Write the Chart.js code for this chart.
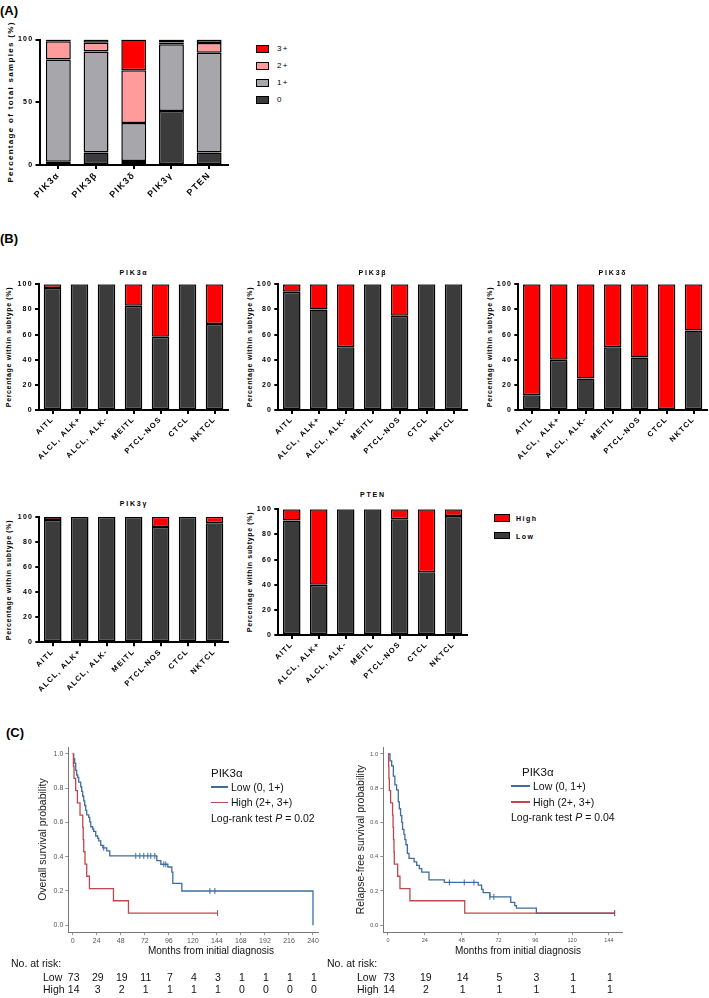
<!DOCTYPE html>
<html><head><meta charset="utf-8">
<script src="https://cdn.jsdelivr.net/npm/chart.js@4.4.1/dist/chart.umd.min.js"></script>
<style>
body{margin:0;width:709px;height:998px;position:relative;background:#fff;overflow:hidden;font-family:'Liberation Sans',Arial,sans-serif;color:#000;}
canvas{position:absolute;}
.t{position:absolute;white-space:nowrap;line-height:1;color:#000;}
.pl{font-weight:bold;font-size:13px;}
.bt{font-weight:bold;font-size:7px;letter-spacing:1.8px;transform:translate(-50%,-50%);}
.yt{font-weight:bold;font-size:7px;letter-spacing:0.65px;transform:translate(-50%,-50%) rotate(-90deg);}
.lg{font-size:8px;letter-spacing:1.2px;transform:translateY(-50%);}
.lgb{font-weight:bold;font-size:7px;letter-spacing:1.5px;transform:translateY(-50%);}
.box{position:absolute;border:1px solid #000;box-sizing:border-box;}
.km{font-size:10.5px;color:#111;transform:translateY(-50%);}
.kmh{font-size:11.5px;color:#111;transform:translateY(-50%);}
.ln{position:absolute;height:1.5px;}
</style></head>
<body>
<div class="t pl" style="left:0px;top:4px;">(A)</div>
<div class="t pl" style="left:0px;top:232px;">(B)</div>
<div class="t pl" style="left:6px;top:726px;">(C)</div>

<canvas id="cA"></canvas>
<canvas id="cB1"></canvas><canvas id="cB2"></canvas><canvas id="cB3"></canvas>
<canvas id="cB4"></canvas><canvas id="cB5"></canvas>
<canvas id="cC1"></canvas><canvas id="cC2"></canvas>

<!-- axis titles of bar charts -->
<div class="t yt" style="left:10.7px;top:102px;font-size:8px;letter-spacing:1.3px;">Percentage of total samples (%)</div>
<div class="t yt" style="left:8px;top:347px;">Percentage within subtype (%)</div>
<div class="t yt" style="left:248.7px;top:347px;">Percentage within subtype (%)</div>
<div class="t yt" style="left:488.7px;top:347px;">Percentage within subtype (%)</div>
<div class="t yt" style="left:8px;top:579.5px;">Percentage within subtype (%)</div>
<div class="t yt" style="left:248.7px;top:572px;">Percentage within subtype (%)</div>

<!-- panel A legend -->
<div class="box" style="left:256px;top:45px;width:13px;height:7.5px;background:#ff0000"></div>
<div class="box" style="left:256px;top:62px;width:13px;height:7.5px;background:#ff9b9b"></div>
<div class="box" style="left:256px;top:79px;width:13px;height:7.5px;background:#a6a6ab"></div>
<div class="box" style="left:256px;top:96px;width:13px;height:7.5px;background:#3b3b3b"></div>
<div class="t lg" style="left:277px;top:49px;">3+</div>
<div class="t lg" style="left:277px;top:66px;">2+</div>
<div class="t lg" style="left:277px;top:83px;">1+</div>
<div class="t lg" style="left:277px;top:100px;">0</div>

<!-- panel B titles -->
<div class="t bt" style="left:134px;top:272px;">PIK3α</div>
<div class="t bt" style="left:373px;top:272px;">PIK3β</div>
<div class="t bt" style="left:613px;top:272px;">PIK3δ</div>
<div class="t bt" style="left:134px;top:503px;">PIK3γ</div>
<div class="t bt" style="left:373px;top:494px;">PTEN</div>
<!-- panel B legend -->
<div class="box" style="left:494px;top:514px;width:16px;height:7.5px;background:#ff0000"></div>
<div class="box" style="left:494px;top:531.5px;width:16px;height:7.5px;background:#3b3b3b"></div>
<div class="t lgb" style="left:516px;top:518px;">High</div>
<div class="t lgb" style="left:516px;top:535.5px;">Low</div>

<!-- panel C legends -->
<div class="t kmh" style="left:211px;top:774px;">PIK3α</div>
<div class="ln" style="left:211px;top:786px;width:17px;background:#3d6d9e"></div>
<div class="t km" style="left:231px;top:787px;">Low (0, 1+)</div>
<div class="ln" style="left:211px;top:801.5px;width:17px;background:#c0464f"></div>
<div class="t km" style="left:231px;top:802px;">High (2+, 3+)</div>
<div class="t km" style="left:211px;top:818px;">Log-rank test <i>P</i> = 0.02</div>

<div class="t kmh" style="left:522px;top:773px;">PIK3α</div>
<div class="ln" style="left:511px;top:785px;width:19px;background:#3d6d9e"></div>
<div class="t km" style="left:533px;top:786px;">Low (0, 1+)</div>
<div class="ln" style="left:511px;top:801px;width:19px;background:#c0464f"></div>
<div class="t km" style="left:533px;top:802px;">High (2+, 3+)</div>
<div class="t km" style="left:511px;top:817px;">Log-rank test <i>P</i> = 0.04</div>

<script>
// ---------- Panel A data ----------
const catA = ['PIK3α','PIK3β','PIK3δ','PIK3γ','PTEN'];
const score0 = [2.5, 10, 3.2, 43, 10];
const score1 = [81.5, 80.5, 30.3, 53.3, 79.5];
const score2 = [14.7, 7, 42, 1.3, 7.8];
const score3 = [1.3, 2.5, 24.5, 2.4, 2.7];
const ticksA = [0, 50, 100];

// ---------- Panel B data ----------
const subtypes = ['AITL','ALCL, ALK+','ALCL, ALK-','MEITL','PTCL-NOS','CTCL','NKTCL'];
const ticksB = [0, 20, 40, 60, 80, 100];
const lowPIK3a = [97, 100, 100, 83, 58.3, 100, 68.4];
const highPIK3a = [3, 0, 0, 17, 41.7, 0, 31.6];
const lowPIK3b = [94.1, 80, 50, 100, 75, 100, 100];
const highPIK3b = [5.9, 20, 50, 0, 25, 0, 0];
const lowPIK3d = [11.8, 40, 25, 50, 41.7, 0, 63.2];
const highPIK3d = [88.2, 60, 75, 50, 58.3, 100, 36.8];
const lowPIK3g = [97.3, 100, 100, 100, 91.7, 100, 94.7];
const highPIK3g = [2.7, 0, 0, 0, 8.3, 0, 5.3];
const lowPTEN = [91, 40, 100, 100, 92, 50, 94.7];
const highPTEN = [9, 60, 0, 0, 8, 50, 5.3];

// ---------- Panel C data (Kaplan-Meier) ----------
const osTicks = [0,24,48,72,96,120,144,168,192,216,240];
const rfsTicks = [0,24,48,72,96,120,144];
const survTicks = [0,0.2,0.4,0.6,0.8,1.0];
const osLowT = [0,1,2,3,4,5,6,8,9,10,11,12,13,14,16,17,18,20,21,23,25,26,28,30,34,37,84,88,95,99,100,109,240];
const osLowS = [1,0.973,0.945,0.904,0.877,0.863,0.836,0.808,0.781,0.753,0.726,0.699,0.671,0.644,0.63,0.603,0.575,0.562,0.548,0.521,0.507,0.493,0.466,0.452,0.434,0.405,0.377,0.356,0.34,0.31,0.245,0.2,0];
const osLowCensT = [31,63,67,71,75,78,82,91,93,137,142];
const osLowCensS = [0.452,0.405,0.405,0.405,0.405,0.405,0.405,0.356,0.356,0.2,0.2];
const osHighT = [0,0.7,1.3,3,4.7,7.3,10,10.5,11,12.3,14,16.7,40.7,55.7,144.7];
const osHighS = [1,0.929,0.857,0.786,0.714,0.643,0.571,0.5,0.429,0.357,0.286,0.214,0.143,0.071,0.071];
const osHighCensT = [144.7];
const osHighCensS = [0.071];
const rfsLowT = [0,1.3,2.4,3.5,4.5,5.6,6.7,7.4,8.2,9,9.5,10.4,11,11.7,12.6,13.7,17,18.7,20.4,22,26.7,36.7,58.8,61,62,66.4,80,82.6,83.7,96.7,147.7];
const rfsLowS = [1,0.96,0.93,0.87,0.82,0.79,0.72,0.68,0.64,0.6,0.56,0.53,0.5,0.47,0.42,0.39,0.37,0.35,0.33,0.31,0.265,0.25,0.234,0.21,0.19,0.166,0.133,0.114,0.1,0.07,0.07];
const rfsLowCensT = [40,49.7,56,66.4,69,147.7];
const rfsLowCensS = [0.25,0.25,0.25,0.166,0.166,0.07];
const rfsHighT = [0,0.4,0.6,0.9,1.7,3.0,3.3,3.6,3.9,4.1,6.3,7.8,14.3,50,147.7];
const rfsHighS = [1,0.929,0.857,0.786,0.714,0.643,0.571,0.5,0.429,0.357,0.286,0.214,0.143,0.071,0.071];
const rfsHighCensT = [147.7];
const rfsHighCensS = [0.071];
const osRiskLow = [73,29,19,11,7,4,3,1,1,1,1];
const osRiskHigh = [14,3,2,1,1,1,1,0,0,0,0];
const rfsRiskLow = [73,19,14,5,3,1,1];
const rfsRiskHigh = [14,2,1,1,1,1,1];

Chart.defaults.font.family = "'Liberation Sans', Arial, sans-serif";
Chart.defaults.animation = false;

const spacing = {id:'spacing', beforeDraw(c, a, o){ c.ctx.letterSpacing = (o.px || 0) + 'px'; }};

function place(id, box){
  const cv = document.getElementById(id);
  cv.width = box.w; cv.height = box.h;
  cv.style.left = box.l + 'px'; cv.style.top = box.t + 'px';
  cv.style.width = box.w + 'px'; cv.style.height = box.h + 'px';
  return cv;
}

function barChart(id, box, area, labels, datasets, yTicks, xfs, yfs, ls, barPct){
  const cv = place(id, box);
  return new Chart(cv, {
    type: 'bar',
    data: {labels, datasets},
    plugins: [spacing],
    options: {
      responsive: false,
      layout: {padding: {left: 0, top: area.t - box.t, right: box.l + box.w - area.r, bottom: 0}},
      plugins: {legend: {display: false}, tooltip: {enabled: false}, spacing: {px: ls}},
      datasets: {bar: {categoryPercentage: 1, barPercentage: barPct, borderColor: '#000', borderWidth: 1.5, borderSkipped: false}},
      scales: {
        x: {
          stacked: true, offset: true,
          grid: {display: true, offset: false, drawOnChartArea: false, drawTicks: true, tickLength: 4, lineWidth: 2, color: '#000'},
          border: {display: true, width: 2, color: '#000'},
          ticks: {autoSkip: false, minRotation: 45, maxRotation: 45, padding: 1, color: '#000', font: {size: xfs, weight: 'bold'}},
          afterFit(s){ s.height = box.t + box.h - area.b; }
        },
        y: {
          stacked: true, min: 0, max: 100,
          afterBuildTicks(s){ s.ticks = yTicks.map(v => ({value: v})); },
          grid: {display: true, drawOnChartArea: false, drawTicks: true, tickLength: 4, lineWidth: 2, color: '#000'},
          border: {display: true, width: 2, color: '#000'},
          ticks: {padding: 2, color: '#000', font: {size: yfs, weight: 'bold'}},
          afterFit(s){ s.width = area.l - box.l; }
        }
      }
    }
  });
}

const DARK = '#3b3b3b', RED = '#ff0000';
function hl(low, high){
  return [{label: 'Low', data: low, backgroundColor: DARK}, {label: 'High', data: high, backgroundColor: RED}];
}

// Panel A
barChart('cA', {l: 16, t: 30, w: 219, h: 172}, {l: 39.5, t: 39.5, r: 228, b: 165}, catA, [
  {label: '0', data: score0, backgroundColor: '#3b3b3b'},
  {label: '1+', data: score1, backgroundColor: '#a6a6ab'},
  {label: '2+', data: score2, backgroundColor: '#ff9b9b'},
  {label: '3+', data: score3, backgroundColor: '#ff0000'}
], ticksA, 9, 7, 1.3, 0.66);

barChart('cB1', {l: 14, t: 276, w: 221, h: 194}, {l: 39, t: 284.3, r: 228, b: 410}, subtypes, hl(lowPIK3a, highPIK3a), ticksB, 7.5, 7, 1.3, 0.65);
barChart('cB2', {l: 254, t: 276, w: 220, h: 194}, {l: 278.3, t: 284.3, r: 467, b: 410}, subtypes, hl(lowPIK3b, highPIK3b), ticksB, 7.5, 7, 1.3, 0.65);
barChart('cB3', {l: 494, t: 276, w: 215, h: 194}, {l: 518.3, t: 284.3, r: 707, b: 410}, subtypes, hl(lowPIK3d, highPIK3d), ticksB, 7.5, 7, 1.3, 0.65);
barChart('cB4', {l: 14, t: 508, w: 221, h: 194}, {l: 39.3, t: 516.7, r: 228, b: 642.3}, subtypes, hl(lowPIK3g, highPIK3g), ticksB, 7.5, 7, 1.3, 0.65);
barChart('cB5', {l: 254, t: 500, w: 220, h: 194}, {l: 278.3, t: 509.3, r: 467, b: 635}, subtypes, hl(lowPTEN, highPTEN), ticksB, 7.5, 7, 1.3, 0.65);

// Panel C
const BLUE = '#3d6d9e', KRED = '#c0464f';
const pts = (T, S) => T.map((t, i) => ({x: t, y: S[i]}));

const riskPlugin = {
  id: 'risk',
  afterDraw(c, a, o){
    const ctx = c.ctx, xs = c.scales.x;
    ctx.save();
    ctx.fillStyle = '#111';
    ctx.textBaseline = 'middle';
    ctx.font = "10px 'Liberation Sans', Arial, sans-serif";
    ctx.textAlign = 'center';
    ctx.fillText('Months from initial diagnosis', o.titleX - o.ox, 951 - o.oy);
    ctx.font = "10.5px 'Liberation Sans', Arial, sans-serif";
    ctx.textAlign = 'left';
    ctx.fillText('No. at risk:', o.noX - o.ox, 964.5 - o.oy);
    ctx.fillText('Low', o.labX - o.ox, 978 - o.oy);
    ctx.fillText('High', o.labX - o.ox, 990.5 - o.oy);
    ctx.textAlign = 'center';
    o.times.forEach((t, i) => {
      const px = xs.getPixelForValue(t);
      ctx.fillText(String(o.low[i]), px + 1, 978 - o.oy);
      ctx.fillText(String(o.high[i]), px + 1, 990.5 - o.oy);
    });
    ctx.restore();
  }
};

function kmChart(id, box, area, xr, ticksX, xfs, yfs, yTitle, yTitleCenter, sets, risk){
  const cv = place(id, box);
  const lh = 10.5 * 1.2;
  return new Chart(cv, {
    type: 'line',
    data: {datasets: [
      {data: pts(sets.hT, sets.hS), borderColor: KRED, borderWidth: 1.3, pointRadius: 0, stepped: true, fill: false},
      {data: pts(sets.lT, sets.lS), borderColor: BLUE, borderWidth: 1.3, pointRadius: 0, stepped: true, fill: false},
      {type: 'scatter', data: pts(sets.hcT, sets.hcS), showLine: false, pointStyle: 'line', rotation: 90, pointRadius: 3, borderColor: KRED, borderWidth: 1},
      {type: 'scatter', data: pts(sets.lcT, sets.lcS), showLine: false, pointStyle: 'line', rotation: 90, pointRadius: 3, borderColor: BLUE, borderWidth: 1}
    ]},
    plugins: [riskPlugin],
    options: {
      responsive: false,
      layout: {padding: {left: 0, top: area.t - box.t, right: box.l + box.w - area.r, bottom: 0}},
      plugins: {legend: {display: false}, tooltip: {enabled: false}, risk: Object.assign({ox: box.l, oy: box.t}, risk)},
      scales: {
        x: {
          type: 'linear', min: xr[0], max: xr[1],
          afterBuildTicks(s){ s.ticks = ticksX.map(v => ({value: v})); },
          grid: {display: true, drawOnChartArea: false, drawTicks: true, tickLength: 3, lineWidth: 0.8, color: '#777'},
          border: {display: true, width: 1, color: '#777'},
          ticks: {autoSkip: false, maxRotation: 0, padding: 2, color: '#555', font: {size: xfs}},
          afterFit(s){ s.height = box.t + box.h - area.b; }
        },
        y: {
          type: 'linear', min: -0.04, max: 1.04,
          afterBuildTicks(s){ s.ticks = survTicks.map(v => ({value: v})); },
          grid: {display: true, drawOnChartArea: false, drawTicks: true, tickLength: 3, lineWidth: 0.8, color: '#777'},
          border: {display: true, width: 1, color: '#777'},
          ticks: {padding: 2, color: '#555', font: {size: yfs}, callback: v => Number(v).toFixed(1)},
          title: {display: true, text: yTitle, color: '#222', font: {size: 10.5},
                  padding: {top: Math.max(0, yTitleCenter - box.l - lh / 2), bottom: 0}},
          afterFit(s){ s.width = area.l - box.l; }
        }
      }
    }
  });
}

kmChart('cC1', {l: 0, t: 735, w: 352, h: 263}, {l: 68.3, t: 747.1, r: 318, b: 932.1}, [-4.4, 245], osTicks, 7, 7,
  'Overall survival probability', 43,
  {lT: osLowT, lS: osLowS, hT: osHighT, hS: osHighS, lcT: osLowCensT, lcS: osLowCensS, hcT: osHighCensT, hcS: osHighCensS},
  {times: osTicks, low: osRiskLow, high: osRiskHigh, titleX: 211, noX: 11, labX: 43});

kmChart('cC2', {l: 320, t: 735, w: 389, h: 263}, {l: 383.3, t: 747.1, r: 622, b: 932.1}, [-3.06, 152.5], rfsTicks, 5.5, 6,
  'Relapse-free survival probability', 361,
  {lT: rfsLowT, lS: rfsLowS, hT: rfsHighT, hS: rfsHighS, lcT: rfsLowCensT, lcS: rfsLowCensS, hcT: rfsHighCensT, hcS: rfsHighCensS},
  {times: rfsTicks, low: rfsRiskLow, high: rfsRiskHigh, titleX: 518, noX: 327, labX: 357});
</script>
</body></html>
